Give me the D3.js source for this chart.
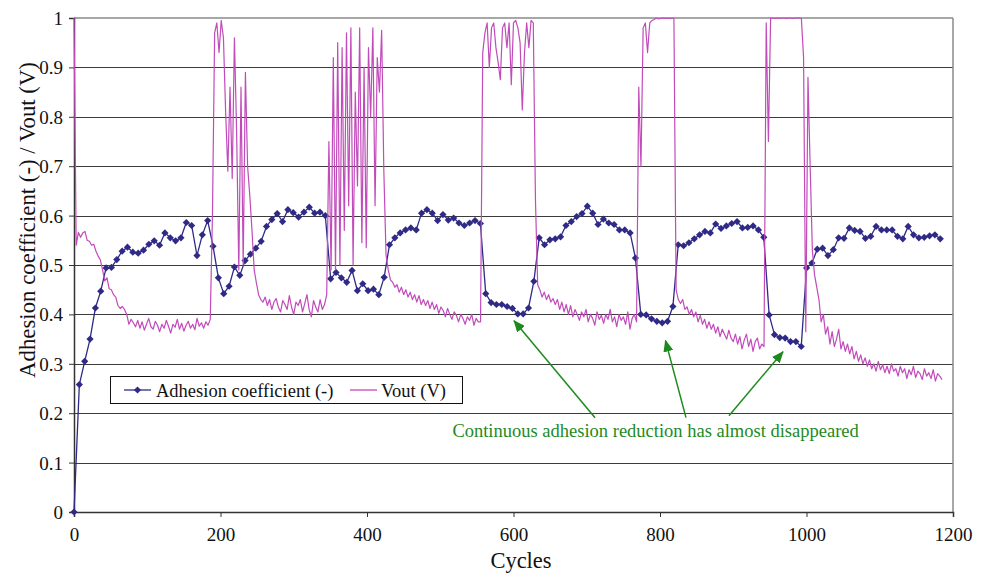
<!DOCTYPE html>
<html><head><meta charset="utf-8">
<script src="https://cdn.jsdelivr.net/npm/d3@7"></script>
<style>
body{margin:0;background:#fff}
svg{display:block}
text{font-family:"Liberation Serif","Times New Roman",Tinos,serif;fill:#111}
</style>
</head><body>
<svg id="chart" width="986" height="575"></svg>
<script>
// ---------- data ----------
const adhesionStep = 7.3; // cycles between adhesion samples
const adhesion = [
 0, 0.258, 0.305, 0.350, 0.413, 0.447, 0.494, 0.495, 0.511, 0.528,
 0.536, 0.526, 0.524, 0.530, 0.542, 0.549, 0.540, 0.565, 0.555, 0.549,
 0.555, 0.586, 0.580, 0.519, 0.561, 0.590, 0.538, 0.474, 0.442, 0.457,
 0.496, 0.479, 0.509, 0.522, 0.534, 0.548, 0.578, 0.592, 0.604, 0.588,
 0.612, 0.606, 0.597, 0.607, 0.617, 0.605, 0.607, 0.600, 0.472, 0.485,
 0.474, 0.465, 0.489, 0.448, 0.462, 0.448, 0.451, 0.440, 0.475, 0.541,
 0.555, 0.565, 0.571, 0.575, 0.571, 0.605, 0.612, 0.605, 0.590, 0.602,
 0.591, 0.595, 0.585, 0.580, 0.585, 0.590, 0.584, 0.442, 0.424, 0.420,
 0.420, 0.416, 0.412, 0.401, 0.401, 0.413, 0.467, 0.555, 0.541, 0.551,
 0.553, 0.557, 0.580, 0.588, 0.598, 0.604, 0.619, 0.605, 0.582, 0.593,
 0.585, 0.582, 0.571, 0.571, 0.565, 0.514, 0.400, 0.399, 0.391, 0.386,
 0.383, 0.386, 0.416, 0.541, 0.539, 0.545, 0.553, 0.561, 0.568, 0.565,
 0.583, 0.574, 0.579, 0.584, 0.588, 0.575, 0.576, 0.579, 0.571, 0.556,
 0.399, 0.359, 0.353, 0.352, 0.345, 0.345, 0.335, 0.494, 0.504, 0.532,
 0.534, 0.519, 0.531, 0.555, 0.554, 0.575, 0.570, 0.568, 0.554, 0.558,
 0.578, 0.571, 0.571, 0.571, 0.558, 0.553, 0.578, 0.561, 0.555, 0.556,
 0.559, 0.561, 0.553
];
const voutStep = 3; // cycles between Vout samples
const vout = [
 1.0, 0.54, 0.566, 0.556, 0.565, 0.568, 0.55, 0.548, 0.54, 0.542,
 0.528, 0.518, 0.51, 0.49, 0.468, 0.474, 0.452, 0.45, 0.44, 0.435,
 0.418, 0.412, 0.416, 0.41, 0.40, 0.38, 0.39, 0.383, 0.375, 0.388,
 0.372, 0.385, 0.368, 0.38, 0.392, 0.375, 0.37, 0.386, 0.378, 0.365,
 0.38, 0.372, 0.388, 0.376, 0.362, 0.38, 0.374, 0.39, 0.37, 0.382,
 0.366, 0.378, 0.386, 0.372, 0.38, 0.369, 0.392, 0.376, 0.383, 0.372,
 0.385, 0.378, 0.39, 0.60, 0.97, 0.99, 0.93, 0.995, 0.96, 0.81,
 0.69, 0.86, 0.675, 0.96, 0.77, 0.49, 0.86, 0.50, 0.89, 0.70,
 0.64, 0.57, 0.49, 0.464, 0.44, 0.43, 0.425, 0.435, 0.418, 0.43,
 0.41, 0.425, 0.432, 0.415, 0.405, 0.428, 0.42, 0.41, 0.438, 0.415,
 0.40, 0.425, 0.418, 0.43, 0.405, 0.422, 0.44, 0.41, 0.395, 0.428,
 0.415, 0.405, 0.43, 0.41, 0.42, 0.44, 0.75, 0.49, 0.92, 0.49,
 0.95, 0.50, 0.94, 0.57, 0.97, 0.62, 0.98, 0.50, 0.85, 0.66,
 0.98, 0.545, 0.90, 0.535, 0.94, 0.80, 0.98, 0.62, 0.92, 0.85,
 0.975, 0.69, 0.52, 0.49, 0.47, 0.465, 0.455, 0.46, 0.445, 0.455,
 0.44, 0.45, 0.435, 0.445, 0.43, 0.44, 0.425, 0.438, 0.42, 0.43,
 0.418, 0.428, 0.412, 0.425, 0.41, 0.42, 0.402, 0.415, 0.408, 0.395,
 0.412, 0.40, 0.39, 0.405, 0.398, 0.385, 0.40, 0.392, 0.38, 0.395,
 0.388, 0.40, 0.378, 0.392, 0.385, 0.385, 0.93, 0.97, 0.99, 0.90,
 0.98, 0.99, 0.94, 0.91, 0.875, 0.98, 0.99, 0.94, 0.99, 0.865,
 0.99, 0.995, 0.98, 0.95, 0.814, 0.93, 0.99, 0.94, 0.995, 0.99,
 0.63, 0.46, 0.45, 0.435, 0.445, 0.43, 0.44, 0.425, 0.432, 0.42,
 0.43, 0.41, 0.425, 0.405, 0.42, 0.40, 0.418, 0.395, 0.41, 0.40,
 0.388, 0.405, 0.395, 0.41, 0.385, 0.40, 0.392, 0.378, 0.405, 0.39,
 0.398, 0.382, 0.40, 0.39, 0.41, 0.385, 0.395, 0.375, 0.40, 0.388,
 0.395, 0.38, 0.405, 0.37, 0.392, 0.40, 0.385, 0.86, 0.70, 0.98,
 0.99, 0.93, 0.99, 0.995, 0.997, 1.0, 0.998, 0.999, 1.0, 0.999,
 1.0, 0.999, 1.0, 0.999, 0.45, 0.43, 0.422, 0.43, 0.41, 0.415,
 0.40, 0.41, 0.395, 0.405, 0.385, 0.398, 0.38, 0.39, 0.372, 0.385,
 0.37, 0.38, 0.362, 0.375, 0.355, 0.37, 0.36, 0.35, 0.368, 0.352,
 0.345, 0.36, 0.34, 0.355, 0.33, 0.348, 0.36, 0.335, 0.35, 0.325,
 0.345, 0.352, 0.33, 0.34, 0.335, 0.99, 0.75, 1.0, 1.0, 0.999,
 1.0, 0.999, 1.0, 1.0, 0.999, 1.0, 1.0, 0.999, 1.0, 1.0,
 1.0, 0.999, 0.92, 0.365, 0.88, 0.70, 0.53, 0.48, 0.455, 0.43,
 0.385, 0.40, 0.36, 0.375, 0.34, 0.365, 0.335, 0.35, 0.37, 0.33,
 0.345, 0.325, 0.34, 0.32, 0.335, 0.31, 0.325, 0.305, 0.318, 0.30,
 0.312, 0.295, 0.308, 0.29, 0.30, 0.285, 0.305, 0.288, 0.298, 0.282,
 0.295, 0.28, 0.30, 0.285, 0.29, 0.275, 0.295, 0.282, 0.29, 0.27,
 0.288, 0.278, 0.295, 0.272, 0.285, 0.28, 0.268, 0.29, 0.275, 0.282,
 0.27, 0.288, 0.265, 0.28, 0.275, 0.268
];
const xTicks = [0, 200, 400, 600, 800, 1000, 1200];
const yTicks = [0, 0.1, 0.2, 0.3, 0.4, 0.5, 0.6, 0.7, 0.8, 0.9, 1];
const seriesNames = ["Adhesion coefficient (-)", "Vout (V)"];
const xTitle = "Cycles";
const yTitle = "Adhesion coefficient (-) / Vout (V)";
const noteText = "Continuous adhesion reduction has almost disappeared";
const noteAnchor = [794, 0.152];
const noteStarts = [[711.3, 0.191], [835.5, 0.191], [894.2, 0.195]];
const noteTargets = [[600.7, 0.387], [807.5, 0.347], [967.9, 0.3245]];

// ---------- drawing ----------
const FONT = '"Liberation Serif","Times New Roman",Tinos,serif';
const W = 986, H = 575;
const m = {l: 74, r: 33, t: 18, b: 63};
const svg = d3.select("#chart");
const x = d3.scaleLinear().domain([0, 1200]).range([m.l, W - m.r]);
const y = d3.scaleLinear().domain([0, 1]).range([H - m.b, m.t]);
const adhColor = "#2f2a86", voutColor = "#c24bbb", noteColor = "#1e8a1e";

// gridlines
svg.append("g").selectAll("line").data(yTicks.filter(v => v > 0 && v < 1)).join("line")
  .attr("x1", x(0)).attr("x2", x(1200))
  .attr("y1", d => Math.round(y(d)) + 0.5).attr("y2", d => Math.round(y(d)) + 0.5)
  .attr("stroke", "#3c3c3c").attr("stroke-width", 1.1);
// top & right frame
svg.append("line").attr("x1", x(0)).attr("x2", x(1200)).attr("y1", y(1)).attr("y2", y(1))
  .attr("stroke", "#8a8a8a").attr("stroke-width", 1.5);
svg.append("line").attr("x1", x(1200)).attr("x2", x(1200)).attr("y1", y(1)).attr("y2", y(0))
  .attr("stroke", "#8a8a8a").attr("stroke-width", 1.5);

// axes
const xAxis = d3.axisBottom(x).tickValues(xTicks).tickFormat(d3.format("d")).tickSize(5).tickPadding(6);
const yAxis = d3.axisLeft(y).tickValues(yTicks).tickFormat(d => d === 0 || d === 1 ? String(d) : d3.format(".1f")(d)).tickSize(5).tickPadding(6);
const gx = svg.append("g").attr("transform", `translate(0,${y(0)})`).call(xAxis);
const gy = svg.append("g").attr("transform", `translate(${x(0)},0)`).call(yAxis);
[gx, gy].forEach(g => {
  g.attr("font-family", FONT);
  g.select(".domain").attr("stroke", "#333").attr("stroke-width", 1.5);
  g.selectAll(".tick line").attr("stroke", "#333");
  g.selectAll(".tick text").style("font-family", FONT)
    .style("font-size", "19px").attr("fill", "#111");
});
gx.selectAll(".tick text").attr("dy", "0.95em");
gy.selectAll(".tick text").attr("dy", "0.34em");

// axis titles
svg.append("text").attr("x", 521).attr("y", 568)
  .attr("text-anchor", "middle").style("font-family", FONT).style("font-size", "22.5px").text(xTitle);
svg.append("text").attr("transform", "translate(27,220) rotate(-90)")
  .attr("text-anchor", "middle").attr("dominant-baseline", "central")
  .style("font-family", FONT).style("font-size", "22.8px").text(yTitle);

// series
const adhPts = adhesion.map((v, i) => [i * adhesionStep, v]);
const voutPts = vout.map((v, i) => [i * voutStep, v]);
const line = d3.line().x(d => x(d[0])).y(d => y(d[1]));
svg.append("path").datum(adhPts).attr("d", line).attr("fill", "none")
  .attr("stroke", adhColor).attr("stroke-width", 1.3);
const diamond = r => `M0,${-r}L${r},0L0,${r}L${-r},0Z`;
svg.append("g").selectAll("path").data(adhPts).join("path")
  .attr("d", diamond(3.6))
  .attr("transform", d => `translate(${x(d[0])},${y(d[1])})`)
  .attr("fill", adhColor);
svg.append("path").datum(voutPts).attr("d", line).attr("fill", "none")
  .attr("stroke", voutColor).attr("stroke-width", 1.2).attr("stroke-linejoin", "round");

// legend
const lg = svg.append("g");
lg.append("rect").attr("x", 110.5).attr("y", 376.5).attr("width", 352).attr("height", 27)
  .attr("fill", "#fff").attr("stroke", "#111").attr("stroke-width", 1);
lg.append("line").attr("x1", 124).attr("x2", 151).attr("y1", 390).attr("y2", 390)
  .attr("stroke", adhColor).attr("stroke-width", 1.3);
lg.append("path").attr("d", diamond(3.6)).attr("transform", "translate(137.5,390)").attr("fill", adhColor);
lg.append("text").attr("x", 156).attr("y", 396.5).style("font-family", FONT).style("font-size", "18.5px").text(seriesNames[0]);
lg.append("line").attr("x1", 350).attr("x2", 377).attr("y1", 390).attr("y2", 390)
  .attr("stroke", voutColor).attr("stroke-width", 1.3);
lg.append("text").attr("x", 381).attr("y", 396.5).style("font-family", FONT).style("font-size", "18.5px").text(seriesNames[1]);

// annotation
const defs = svg.append("defs");
defs.append("marker").attr("id", "arrow").attr("viewBox", "0 0 12 10")
  .attr("refX", 11).attr("refY", 5).attr("markerWidth", 12).attr("markerHeight", 10)
  .attr("markerUnits", "userSpaceOnUse").attr("orient", "auto")
  .append("path").attr("d", "M0,0L12,5L0,10Z").attr("fill", noteColor);
svg.append("g").selectAll("line").data(noteStarts.map((s, i) => [s, noteTargets[i]])).join("line")
  .attr("x1", d => x(d[0][0])).attr("y1", d => y(d[0][1]))
  .attr("x2", d => x(d[1][0])).attr("y2", d => y(d[1][1]))
  .attr("stroke", noteColor).attr("stroke-width", 1.5).attr("marker-end", "url(#arrow)");
svg.append("text").attr("x", x(noteAnchor[0])).attr("y", y(noteAnchor[1]))
  .attr("text-anchor", "middle").style("font-family", FONT).style("font-size", "18.5px")
  .style("fill", noteColor).text(noteText);
</script>
</body></html>
